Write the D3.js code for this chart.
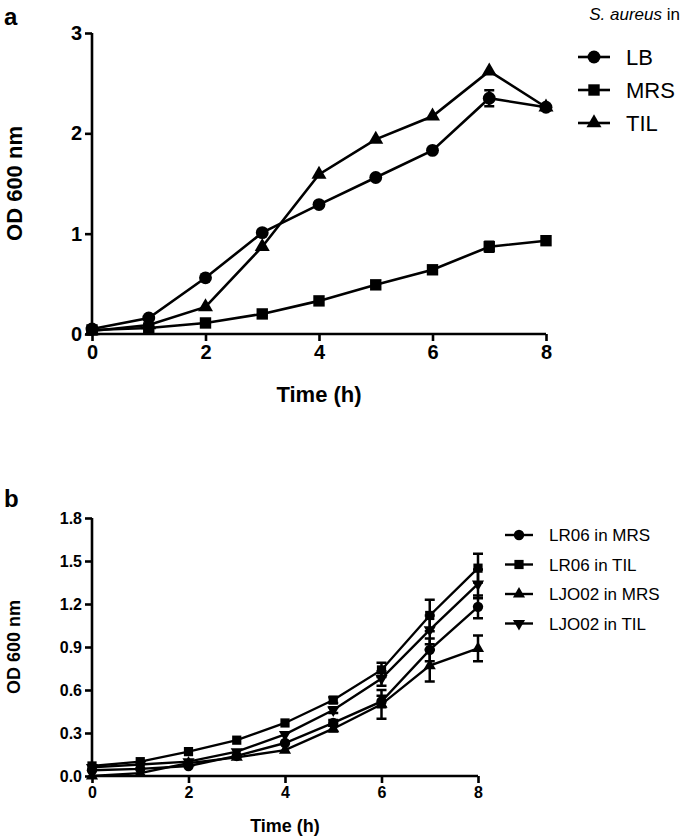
<!DOCTYPE html>
<html>
<head>
<meta charset="utf-8">
<script src="https://d3js.org/d3.v7.min.js"></script>
<style>
  body { margin: 0; background: #fff; }
  text { font-family: "Liberation Sans", Arial, sans-serif; }
</style>
</head>
<body>
<script>
// time points (h)
var hours = [0, 1, 2, 3, 4, 5, 6, 7, 8];

// panel a: S. aureus in LB / MRS / TIL
var aNames = ["LB", "MRS", "TIL"];
var aLB  = [0.05, 0.16, 0.56, 1.01, 1.29, 1.56, 1.83, 2.35, 2.26];
var aMRS = [0.04, 0.06, 0.11, 0.20, 0.33, 0.49, 0.64, 0.87, 0.93];
var aTIL = [0.03, 0.09, 0.27, 0.87, 1.59, 1.94, 2.17, 2.62, 2.26];
var aLBerr  = [0, 0, 0, 0, 0, 0, 0, 0.08, 0];
var aMRSerr = [0, 0, 0, 0, 0, 0, 0, 0.05, 0];
var aTILerr = [0, 0, 0, 0, 0, 0, 0, 0, 0];
var aYTicks = [0, 1, 2, 3];

// panel b: lactobacilli in MRS / TIL
var bNames = ["LR06 in MRS", "LR06 in TIL", "LJO02 in MRS", "LJO02 in TIL"];
var bLR06MRS  = [0.04, 0.05, 0.07, 0.14, 0.23, 0.37, 0.52, 0.88, 1.18];
var bLR06TIL  = [0.07, 0.10, 0.17, 0.25, 0.37, 0.53, 0.74, 1.12, 1.45];
var bLJO02MRS = [0.00, 0.02, 0.09, 0.13, 0.18, 0.33, 0.50, 0.77, 0.89];
var bLJO02TIL = [0.06, 0.08, 0.10, 0.17, 0.29, 0.46, 0.68, 1.02, 1.34];
var bLR06MRSerr  = [0, 0, 0, 0, 0, 0.02, 0.04, 0.08, 0.08];
var bLR06TILerr  = [0, 0, 0, 0, 0, 0.02, 0.05, 0.11, 0.10];
var bLJO02MRSerr = [0, 0, 0, 0, 0, 0.02, 0.10, 0.11, 0.09];
var bLJO02TILerr = [0, 0, 0, 0, 0, 0.02, 0.05, 0.10, 0.10];
var bYTicks = [0, 0.3, 0.6, 0.9, 1.2, 1.5, 1.8];

var xTicks = [0, 2, 4, 6, 8];

var svg = d3.select("body").append("svg")
  .attr("width", 685).attr("height", 838);

var symbols = {
  circle: d3.symbolCircle,
  square: d3.symbolSquare,
  up: d3.symbolTriangle,
  down: d3.symbolTriangle
};

function marker(g, kind, x, y, size) {
  // triangles drawn a bit smaller, like the original
  var s = (kind == "up" || kind == "down") ? size * 0.75 : size;
  g.append("path")
    .attr("d", d3.symbol().type(symbols[kind]).size(s)())
    .attr("transform", "translate(" + x + "," + y + ")" + (kind == "down" ? " rotate(180)" : ""))
    .attr("fill", "#000");
}

function panel(o) {
  var g = svg.append("g");
  var x = d3.scaleLinear().domain([0, 8]).range([o.left, o.right]);
  var y = d3.scaleLinear().domain([0, o.ymax]).range([o.bottom, o.top]);

  // series lines, error bars, markers
  o.series.forEach(function (s) {
    var pts = hours.map(function (h, i) { return [h, s.values[i], s.err[i]]; });
    g.append("path")
      .datum(pts)
      .attr("fill", "none").attr("stroke", "#000").attr("stroke-width", o.lw)
      .attr("d", d3.line().x(function (d) { return x(d[0]); }).y(function (d) { return y(d[1]); }));
    pts.forEach(function (d) {
      if (d[2] > 0) {
        var cx = x(d[0]), t = y(d[1] + d[2]), b = y(d[1] - d[2]);
        g.append("path")
          .attr("d", "M" + cx + "," + t + "V" + b + "M" + (cx - 5) + "," + t + "H" + (cx + 5) + "M" + (cx - 5) + "," + b + "H" + (cx + 5))
          .attr("stroke", "#000").attr("stroke-width", 2.5).attr("fill", "none");
      }
    });
    pts.forEach(function (d) { marker(g, s.kind, x(d[0]), y(d[1]), o.msize); });
  });

  // axes
  var yAxis = g.append("g").attr("transform", "translate(" + o.left + ",0)")
    .call(d3.axisLeft(y).tickValues(o.yticks).tickSize(7).tickPadding(3).tickFormat(o.yfmt));
  var xAxis = g.append("g").attr("transform", "translate(0," + o.bottom + ")")
    .call(d3.axisBottom(x).tickValues(xTicks).tickSize(7).tickPadding(4).tickFormat(d3.format("d")));
  [xAxis, yAxis].forEach(function (a) {
    a.select(".domain").attr("stroke-width", 2.6).attr("d", null);
    a.selectAll(".tick line").attr("stroke-width", 2.6);
    a.selectAll("text").attr("font-size", o.tickFont).attr("font-weight", "bold").attr("fill", "#000");
  });
  yAxis.select(".domain").attr("d", "M0," + o.top + "V" + o.bottom);
  xAxis.select(".domain").attr("d", "M" + o.left + ",0H" + o.right);

  g.append("text")
    .attr("transform", "translate(" + o.yTitleX + "," + ((o.top + o.bottom) / 2) + ") rotate(-90)")
    .attr("text-anchor", "middle").attr("font-size", o.titleFont).attr("font-weight", "bold")
    .text("OD 600 nm");
  g.append("text")
    .attr("x", (o.left + o.right) / 2).attr("y", o.xTitleY)
    .attr("text-anchor", "middle").attr("font-size", o.titleFont).attr("font-weight", "bold")
    .text("Time (h)");
  g.append("text")
    .attr("x", 4).attr("y", o.labelY)
    .attr("font-size", 24).attr("font-weight", "bold").text(o.label);

  // legend
  o.series.forEach(function (s, i) {
    var ly = o.legY + i * o.legStep;
    g.append("line")
      .attr("x1", o.legX).attr("x2", o.legX + o.legLen).attr("y1", ly).attr("y2", ly)
      .attr("stroke", "#000").attr("stroke-width", o.lw);
    marker(g, s.kind, o.legX + o.legLen / 2, ly, o.msize);
    g.append("text")
      .attr("x", o.legX + o.legLen + o.legGap).attr("y", ly)
      .attr("dy", "0.36em").attr("font-size", o.legFont).text(s.name);
  });
  return g;
}

var ga = panel({
  left: 92, right: 546, top: 33, bottom: 334, ymax: 3,
  yticks: aYTicks, yfmt: d3.format("d"),
  lw: 2.6, msize: 130, tickFont: 20, titleFont: 22,
  yTitleX: 22, xTitleY: 402, label: "a", labelY: 25,
  legX: 578, legLen: 32, legGap: 16, legY: 57, legStep: 33, legFont: 22,
  series: [
    { name: aNames[0], kind: "circle", values: aLB, err: aLBerr },
    { name: aNames[1], kind: "square", values: aMRS, err: aMRSerr },
    { name: aNames[2], kind: "up", values: aTIL, err: aTILerr }
  ]
});
var leg = ga.append("text").attr("x", 680).attr("y", 20).attr("text-anchor", "end")
  .attr("font-size", 17);
leg.append("tspan").attr("font-style", "italic").text("S. aureus");
leg.append("tspan").text(" in");

panel({
  left: 92, right: 478, top: 518, bottom: 776, ymax: 1.8,
  yticks: bYTicks, yfmt: d3.format(".1f"),
  lw: 2.4, msize: 85, tickFont: 16, titleFont: 18,
  yTitleX: 20, xTitleY: 832, label: "b", labelY: 507,
  legX: 505, legLen: 28, legGap: 16, legY: 535, legStep: 29.5, legFont: 17,
  series: [
    { name: bNames[0], kind: "circle", values: bLR06MRS, err: bLR06MRSerr },
    { name: bNames[1], kind: "square", values: bLR06TIL, err: bLR06TILerr },
    { name: bNames[2], kind: "up", values: bLJO02MRS, err: bLJO02MRSerr },
    { name: bNames[3], kind: "down", values: bLJO02TIL, err: bLJO02TILerr }
  ]
});
</script>
</body>
</html>
